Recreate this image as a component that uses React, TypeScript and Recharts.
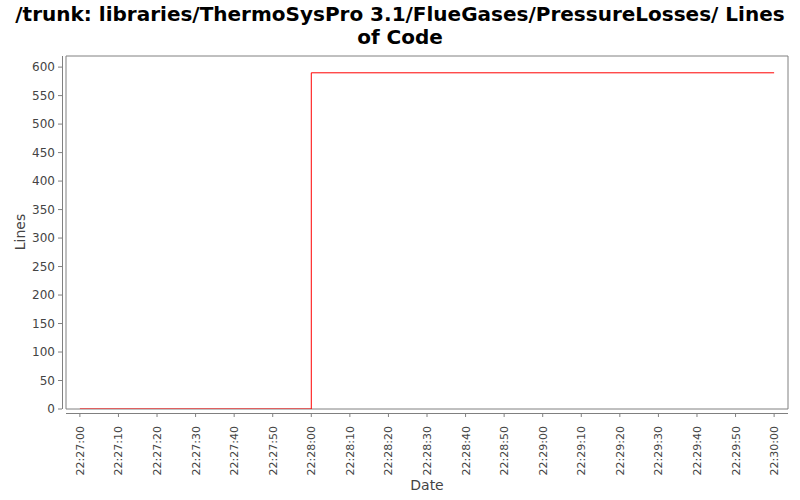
import React from "react";
import { LineChart, Line, XAxis, YAxis, ReferenceArea } from "recharts";

// seconds after 22:27:00
const seconds = [0, 60, 180];
const linesOfCode = [0, 590, 590];
const xTicks = [0, 10, 20, 30, 40, 50, 60, 70, 80, 90, 100, 110, 120, 130, 140, 150, 160, 170, 180];
const yTicks = [0, 50, 100, 150, 200, 250, 300, 350, 400, 450, 500, 550, 600];

const data = seconds.map((s, i) => ({ s, loc: linesOfCode[i] }));

const X_MIN = -3.6;
const X_MAX = 183.6;
const Y_MAX = 619.5;

const fmtTime = (s: number) => {
  const total = 22 * 3600 + 27 * 60 + s;
  const h = Math.floor(total / 3600);
  const m = Math.floor((total % 3600) / 60);
  const sec = total % 60;
  const p = (n: number) => String(n).padStart(2, "0");
  return `${p(h)}:${p(m)}:${p(sec)}`;
};

const XTick = (props: any) => {
  const { x, payload } = props;
  const y = 413;
  return (
    <g>
      <line x1={x} x2={x} y1={y} y2={y + 4} stroke="#808080" />
      <text
        x={x}
        y={y + 13}
        transform={`rotate(-90, ${x}, ${y + 13})`}
        textAnchor="end"
        dy={4}
        fontSize={11}
        fill="#444"
        fontFamily="DejaVu Sans"
      >
        {fmtTime(payload.value)}
      </text>
    </g>
  );
};

const YTick = (props: any) => {
  const { y, payload } = props;
  return (
    <g>
      <line x1={58} x2={62} y1={y} y2={y} stroke="#808080" />
      <text x={55} y={y} dy={4.3} textAnchor="end" fontSize={12} fill="#444" fontFamily="DejaVu Sans">
        {payload.value}
      </text>
    </g>
  );
};

export default function App() {
  return (
    <div style={{ position: "absolute", left: 0, top: 0, width: 800, height: 500, background: "#fff", fontFamily: "DejaVu Sans" }}>
      <div
        style={{
          position: "absolute",
          left: 0,
          top: 3,
          width: 800,
          textAlign: "center",
          fontSize: 20,
          fontWeight: "bold",
          lineHeight: "23px",
          color: "#000",
          whiteSpace: "nowrap",
        }}
      >
        /trunk: libraries/ThermoSysPro 3.1/FlueGases/PressureLosses/ Lines
        <br />
        of Code
      </div>
      {/* axis lines, offset from the plot frame */}
      <div style={{ position: "absolute", left: 62, top: 56, width: 1, height: 353, background: "#808080" }} />
      <div style={{ position: "absolute", left: 66, top: 413, width: 722, height: 1, background: "#808080" }} />
      <div
        style={{
          position: "absolute",
          left: 20,
          top: 232,
          transform: "translate(-50%, -50%) rotate(-90deg)",
          fontSize: 14,
          color: "#444",
          whiteSpace: "nowrap",
        }}
      >
        Lines
      </div>
      <div style={{ position: "absolute", left: 0, width: 854, top: 477, textAlign: "center", fontSize: 14, color: "#444" }}>
        Date
      </div>
      <div style={{ position: "absolute", left: 0, top: 0 }}>
        <LineChart width={800} height={500} data={data} margin={{ top: 56, right: 12, bottom: 0, left: 0 }}>
          <ReferenceArea
            x1={X_MIN}
            x2={X_MAX}
            y1={0}
            y2={Y_MAX}
            fill="#fff"
            fillOpacity={0}
            stroke="#808080"
            strokeOpacity={1}
            ifOverflow="visible"
          />
          <XAxis
            dataKey="s"
            type="number"
            domain={[X_MIN, X_MAX]}
            ticks={xTicks}
            interval={0}
            height={91}
            axisLine={false}
            tickLine={false}
            tick={<XTick />}
            allowDataOverflow
          />
          <YAxis
            type="number"
            domain={[0, Y_MAX]}
            ticks={yTicks}
            interval={0}
            width={66}
            axisLine={false}
            tickLine={false}
            tick={<YTick />}
            allowDataOverflow
          />
          <Line
            type="stepAfter"
            dataKey="loc"
            stroke="#ff0000"
            strokeWidth={1}
            dot={false}
            isAnimationActive={false}
          />
        </LineChart>
      </div>
    </div>
  );
}
